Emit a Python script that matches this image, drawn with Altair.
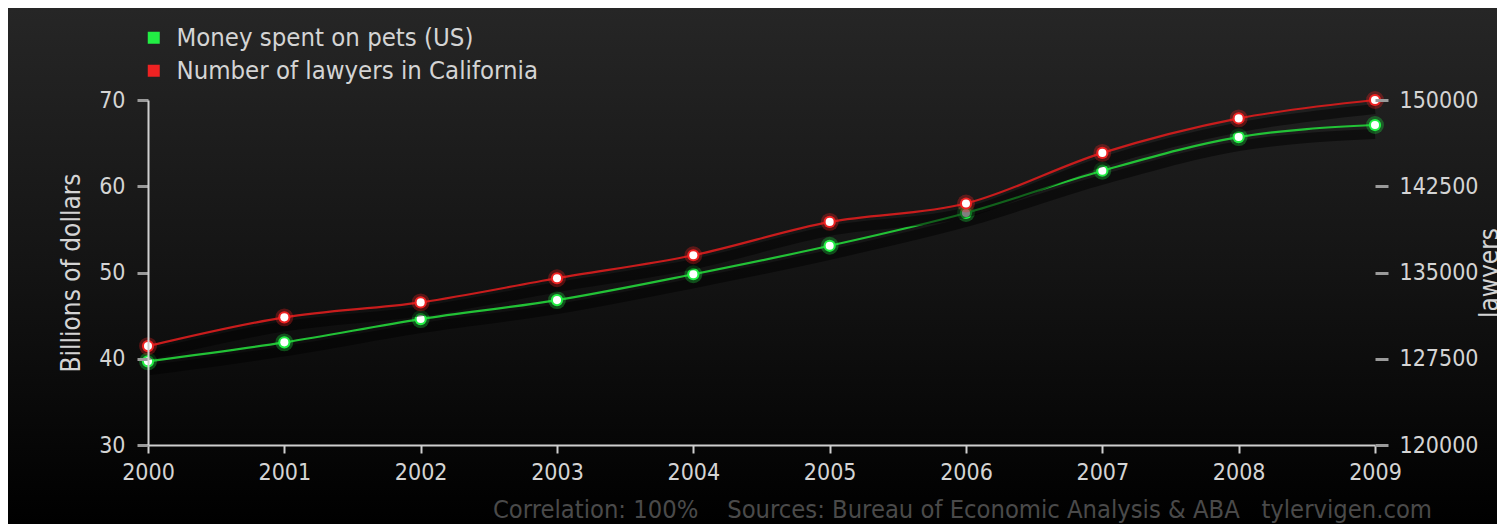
import altair as alt
import pandas as pd

years = [2000, 2001, 2002, 2003, 2004, 2005, 2006, 2007, 2008, 2009]
pets = [39.7, 41.9, 44.6, 46.8, 49.8, 53.1, 56.9, 61.8, 65.7, 67.1]
lawyers = [128600, 131100, 132400, 134500, 136500, 139400, 141000, 145400, 148400, 150000]

pets_label = "Money spent on pets (US)"
lawyers_label = "Number of lawyers in California"
left_title = "Billions of dollars"
right_title = "lawyers"
footer = "Correlation: 100%\u00a0\u00a0\u00a0\u00a0Sources: Bureau of Economic Analysis & ABA\u00a0\u00a0\u00a0tylervigen.com"

left_ticks = [30, 40, 50, 60, 70]
right_ticks = [120000, 127500, 135000, 142500, 150000]

df = pd.DataFrame({"year": years, "pets": pets, "lawyers": lawyers})

PW, PH = 1227, 345
PL, PT, PR, PB = 140, 92, 122, 79

FONT = "'DejaVu Sans Condensed', 'DejaVu Sans', sans-serif"
LBL = "#d4d4d4"
LFS = 23

xenc = alt.X("year:Q", scale=alt.Scale(domain=[2000, 2009], nice=False, zero=False),
             axis=alt.Axis(values=years, format="d", title=None, grid=False,
                           domainColor="#cfcfcf", domainWidth=2, tickColor="#cfcfcf",
                           tickWidth=2, tickSize=8, labelColor=LBL, labelFontSize=LFS,
                           labelPadding=8, labelFont=FONT, labelFlush=False, zindex=1))

bg = alt.Chart(pd.DataFrame({"a": [0]})).mark_rect(
    fill=alt.Gradient(gradient="linear",
                      stops=[alt.GradientStop(color="#262626", offset=0),
                             alt.GradientStop(color="#141414", offset=0.5),
                             alt.GradientStop(color="#000000", offset=1)],
                      x1=0, x2=0, y1=0, y2=1)
).encode(x=alt.value(-PL), x2=alt.value(PW + PR), y=alt.value(-PT), y2=alt.value(PH + PB))

base = alt.Chart(df)

ypets = alt.Y("pets:Q", scale=alt.Scale(domain=[30, 70], nice=False, zero=False),
              axis=alt.Axis(values=left_ticks, title=left_title, grid=False, orient="left",
                            domainColor="#cfcfcf", domainWidth=2, tickColor="#9a9a9a",
                            tickWidth=3, tickSize=11, labelColor=LBL, labelFontSize=LFS,
                            labelPadding=12, labelFont=FONT, labelFlush=False, titleFont=FONT,
                            titleFontSize=26, titleFontWeight="normal", titleColor=LBL,
                            titlePadding=14, zindex=1))

ylaw = alt.Y("lawyers:Q", scale=alt.Scale(domain=[120000, 150000], nice=False, zero=False),
             axis=alt.Axis(values=right_ticks, title=right_title, format="d", grid=False,
                           orient="right", domain=False, tickColor="#9a9a9a", tickWidth=3,
                           tickSize=13, labelColor=LBL, labelFontSize=LFS, labelPadding=11,
                           labelFont=FONT, labelFlush=False, titleFont=FONT, titleFontSize=26,
                           titleFontWeight="normal", titleColor=LBL, titlePadding=25,
                           titleAngle=270, zindex=1))

color_scale = alt.Scale(domain=[pets_label, lawyers_label], range=["#22ee44", "#ee2222"])
legend = alt.Legend(title=None, orient="none", legendX=-7, legendY=-75, symbolType="square",
                    symbolSize=144, symbolOpacity=1, labelFontSize=25.5, labelColor=LBL,
                    labelFont=FONT, labelLimit=600, rowPadding=6, labelOffset=10, padding=0)


def series(yenc, line_color, glow_color, with_legend, label):
    shadow = base.mark_line(interpolate="monotone", color="#000000", strokeWidth=10,
                            opacity=0.5, yOffset=9).encode(x=xenc, y=yenc)
    line = base.mark_line(interpolate="monotone", color=line_color, strokeWidth=2.2).encode(x=xenc, y=yenc)
    glow = base.mark_circle(size=320, opacity=0.3, color=glow_color).encode(x=xenc, y=yenc)
    ring = base.transform_calculate(series="'" + label + "'").mark_circle(size=150, opacity=1).encode(
        x=xenc, y=yenc,
        color=alt.Color("series:N", scale=color_scale, legend=legend if with_legend else None))
    center = base.mark_circle(size=65, opacity=1, color="#ffffff").encode(x=xenc, y=yenc)
    return alt.layer(shadow, line, glow, ring, center)


green = series(ypets, "#22c236", "#22ee44", True, pets_label)
red = series(ylaw, "#c81c1c", "#ff2222", False, lawyers_label)

foot = alt.Chart(pd.DataFrame({"a": [0]})).mark_text(
    text=footer, align="right", baseline="alphabetic", font=FONT, fontSize=25.3, color="#4a4a4a"
).encode(x=alt.value(1284), y=alt.value(418))

chart = alt.layer(bg, green, red, foot).resolve_scale(y="independent").properties(
    width=PW, height=PH,
    padding={"left": PL, "top": PT, "right": PR, "bottom": PB},
    autosize=alt.AutoSizeParams(type="none"),
    background="#000000",
).configure_view(stroke=None).configure(font=FONT)

chart.save("out.html", embed_options={"renderer": "svg", "actions": False})
